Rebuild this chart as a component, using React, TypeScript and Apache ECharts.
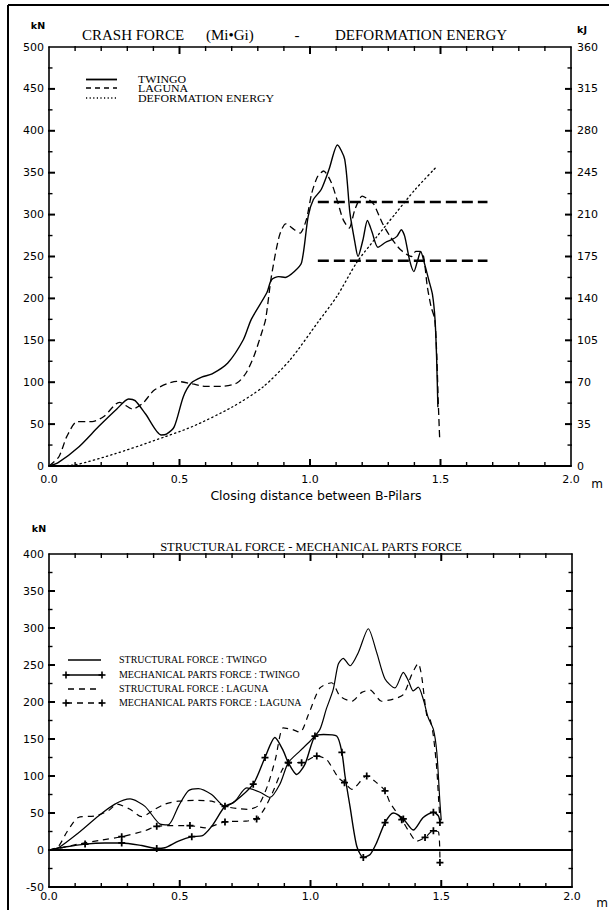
import React, { useEffect, useRef } from "react";
import * as echarts from "echarts";

// ---------- DATA ----------
// Top chart: crash force (kN) vs closing distance (m)
const twingoForce: [number, number][] = [
  [0, 0], [0.035, 4], [0.115, 23], [0.19, 47], [0.26, 68], [0.305, 80], [0.33, 78], [0.37, 62],
  [0.43, 37], [0.45, 38], [0.48, 47], [0.515, 83], [0.545, 99], [0.585, 106], [0.625, 110],
  [0.685, 123], [0.745, 151], [0.775, 175], [0.835, 207], [0.852, 222], [0.88, 226], [0.905, 225],
  [0.94, 232], [0.968, 243], [0.993, 298], [1.013, 318], [1.043, 330], [1.073, 354], [1.105, 383],
  [1.133, 366], [1.153, 302], [1.172, 267], [1.184, 250], [1.203, 270], [1.22, 293], [1.238, 279],
  [1.26, 261], [1.29, 267], [1.313, 270], [1.333, 274], [1.35, 282], [1.363, 274], [1.382, 245],
  [1.398, 232], [1.412, 245], [1.424, 256], [1.44, 240], [1.455, 222], [1.469, 205], [1.479, 175],
  [1.485, 130], [1.49, 70],
];
const lagunaForce: [number, number][] = [
  [0, 0], [0.038, 11], [0.068, 35], [0.108, 53], [0.165, 53], [0.21, 59], [0.27, 76], [0.32, 68],
  [0.36, 75], [0.405, 91], [0.49, 101], [0.55, 98], [0.6, 95], [0.66, 95], [0.72, 99], [0.755, 111],
  [0.785, 131], [0.815, 159], [0.83, 175], [0.852, 226], [0.882, 274], [0.907, 289], [0.94, 282],
  [0.962, 278], [0.986, 294], [1.007, 326], [1.03, 346], [1.052, 352], [1.082, 338], [1.107, 314],
  [1.127, 294], [1.15, 284], [1.172, 306], [1.2, 322], [1.225, 318], [1.245, 312], [1.277, 290],
  [1.307, 274], [1.347, 258], [1.39, 250], [1.405, 256], [1.42, 256], [1.435, 250], [1.449, 215],
  [1.464, 190], [1.478, 175], [1.486, 130], [1.491, 80], [1.497, 31],
];
// Deformation energy (kJ, right axis)
const deformationEnergy: [number, number][] = [
  [0, 0], [0.1, 1], [0.25, 10], [0.4, 21], [0.55, 33], [0.7, 49], [0.82, 66], [0.925, 89],
  [1.03, 120], [1.104, 142], [1.179, 170], [1.254, 191], [1.328, 211], [1.403, 231], [1.485, 250],
];
const refLineHigh: [number, number][] = [[1.03, 315], [1.68, 315]];
const refLineLow: [number, number][] = [[1.03, 245], [1.68, 245]];

// Bottom chart: structural / mechanical parts force (kN)
const twingoStructural: [number, number][] = [
  [0, 0], [0.036, 3], [0.112, 23], [0.189, 46], [0.252, 62], [0.31, 69], [0.367, 59], [0.425, 35],
  [0.456, 34], [0.495, 59], [0.533, 80], [0.571, 83], [0.622, 75], [0.673, 59], [0.711, 66],
  [0.756, 84], [0.807, 78], [0.845, 71], [0.883, 89], [0.915, 118], [0.96, 134], [0.998, 147],
  [1.036, 163], [1.06, 190], [1.087, 217], [1.106, 251], [1.125, 259], [1.151, 249], [1.183, 267],
  [1.221, 299], [1.253, 267], [1.285, 231], [1.323, 219], [1.355, 240], [1.374, 229], [1.393, 215],
  [1.412, 220], [1.431, 204], [1.45, 179], [1.47, 163], [1.483, 132], [1.495, 64], [1.5, 40],
];
const twingoMechanical: [number, number][] = [
  [0, 0], [0.06, 4], [0.138, 8], [0.214, 9.5], [0.278, 9.5], [0.355, 6], [0.412, 2], [0.443, 3],
  [0.495, 12], [0.546, 18], [0.584, 19], [0.622, 32], [0.673, 59], [0.705, 64], [0.781, 89],
  [0.826, 125], [0.864, 152], [0.896, 134], [0.915, 118], [0.947, 102], [0.979, 116], [1.017, 154],
  [1.05, 156], [1.1, 154], [1.12, 132], [1.132, 100], [1.151, 59], [1.177, 5], [1.202, -10],
  [1.228, -6], [1.253, 10], [1.285, 37], [1.317, 50], [1.355, 42], [1.393, 27], [1.431, 44],
  [1.47, 51], [1.489, 46], [1.495, 37],
];
const twingoMechMarks: number[] = [0.138, 0.278, 0.412, 0.546, 0.673, 0.781, 0.826, 0.915, 1.017, 1.12, 1.202, 1.285, 1.355, 1.47, 1.495];
const lagunaStructural: [number, number][] = [
  [0, 0], [0.036, 5], [0.068, 24], [0.112, 44], [0.176, 46], [0.227, 53], [0.26, 62], [0.31, 55],
  [0.354, 45], [0.405, 55], [0.443, 62], [0.495, 66], [0.558, 67], [0.622, 66], [0.673, 59],
  [0.72, 56], [0.761, 55], [0.8, 60], [0.836, 87], [0.866, 123], [0.896, 165], [0.93, 163],
  [0.96, 159], [0.992, 183], [1.036, 219], [1.081, 226], [1.113, 208], [1.158, 201], [1.196, 213],
  [1.228, 216], [1.272, 201], [1.317, 204], [1.355, 210], [1.387, 237], [1.412, 252], [1.425, 235],
  [1.445, 181], [1.457, 177], [1.47, 154], [1.483, 109], [1.49, 68], [1.495, 40],
];
const lagunaMechanical: [number, number][] = [
  [0, 0], [0.036, 2], [0.112, 8], [0.201, 13.5], [0.278, 18], [0.367, 26], [0.412, 32], [0.495, 33],
  [0.539, 33], [0.597, 30], [0.673, 38], [0.75, 39], [0.794, 42], [0.826, 57], [0.858, 80],
  [0.89, 107], [0.915, 118], [0.966, 118], [1.024, 127], [1.062, 122], [1.106, 98], [1.13, 91],
  [1.158, 82], [1.215, 100], [1.253, 91], [1.285, 80], [1.304, 64], [1.349, 41], [1.38, 23],
  [1.406, 12], [1.438, 17], [1.47, 26], [1.49, 24], [1.495, -17],
];
const lagunaMechMarks: number[] = [0.278, 0.412, 0.539, 0.673, 0.794, 0.915, 0.966, 1.024, 1.13, 1.215, 1.285, 1.349, 1.438, 1.47, 1.495];
const zeroLine: [number, number][] = [[0, 0], [2, 0]];

// Tick values for the frame
const xTickValues: number[] = [0.1, 0.2, 0.3, 0.4, 0.5, 0.6, 0.7, 0.8, 0.9, 1.0, 1.1, 1.2, 1.3, 1.4, 1.5, 1.6, 1.7, 1.8, 1.9];
const xMajorTicks: number[] = [0.5, 1.0, 1.5];
const energyTickLabels = ["0", "35", "70", "105", "140", "175", "210", "245", "280", "315", "360"];

// Texts
const topTitleParts = ["CRASH FORCE", "(Mi•Gi)", "-", "DEFORMATION ENERGY"];
const topLegendNames = ["TWINGO", "LAGUNA", "DEFORMATION ENERGY"];
const bottomTitle = "STRUCTURAL FORCE - MECHANICAL PARTS FORCE";
const bottomLegendNames = [
  "STRUCTURAL FORCE : TWINGO",
  "MECHANICAL PARTS FORCE : TWINGO",
  "STRUCTURAL FORCE : LAGUNA",
  "MECHANICAL PARTS FORCE : LAGUNA",
];
const xAxisName = "Closing distance between B-Pilars";

// ---------- LAYOUT / STYLE ----------
const PLUS = "path://M3,0H5V3H8V5H5V8H3V5H0V3H3Z";
const SANS = "DejaVu Sans";
const SERIF = "Liberation Serif";

const GRIDS = [
  { left: 49, top: 47, width: 522, height: 419, yMin: 0, yMax: 500 },
  { left: 49, top: 554, width: 523, height: 333, yMin: -50, yMax: 400 },
];

const markSymbol = (marks: number[]) => (value: any) =>
  marks.includes(Array.isArray(value) ? value[0] : NaN) ? PLUS : "none";

function xAxisDef(gridIndex: number, position: "top" | "bottom", showLabel: boolean, margin: number) {
  return {
    type: "value",
    gridIndex,
    position,
    min: 0,
    max: 2,
    interval: 0.5,
    axisLine: { show: true, onZero: false, lineStyle: { color: "#000", width: position === "bottom" ? 2 : 1.6 } },
    axisTick: { show: false },
    minorTick: { show: false },
    splitLine: { show: false },
    minorSplitLine: { show: false },
    axisLabel: {
      show: showLabel,
      margin,
      color: "#000",
      fontSize: 11,
      fontFamily: SANS,
      formatter: (v: number) => v.toFixed(1),
    },
  };
}

function yAxisDef(
  gridIndex: number,
  position: "left" | "right",
  min: number,
  max: number,
  interval: number,
  label: any
) {
  return {
    type: "value",
    gridIndex,
    position,
    min,
    max,
    interval,
    axisLine: { show: true, onZero: false, lineStyle: { color: "#000", width: 1.6 } },
    axisTick: { show: false },
    minorTick: { show: false },
    splitLine: { show: false },
    minorSplitLine: { show: false },
    axisLabel: label,
  };
}

function lineSeries(
  name: string,
  data: [number, number][],
  xi: number,
  yi: number,
  lineStyle: any,
  marks?: number[]
) {
  return {
    name,
    type: "line",
    xAxisIndex: xi,
    yAxisIndex: yi,
    data,
    smooth: 0.25,
    showSymbol: !!marks,
    symbol: marks ? markSymbol(marks) : "none",
    symbolSize: 7,
    itemStyle: { color: "#000" },
    lineStyle: { color: "#000", ...lineStyle },
    silent: true,
    z: 3,
  };
}

// Tick marks drawn as a scatter series of bar-shaped symbols through the axes' scales
function tickSeries(
  name: string,
  data: [number, number][],
  xi: number,
  yi: number,
  w: number,
  h: number,
  offset: [number, number]
) {
  return {
    name,
    type: "scatter",
    xAxisIndex: xi,
    yAxisIndex: yi,
    data,
    clip: false,
    symbol: "rect",
    symbolSize: [w, h],
    symbolOffset: offset,
    itemStyle: { color: "#000", opacity: 1 },
    silent: true,
    z: 6,
  };
}

function text(x: number, y: number, t: string, size: number, family: string, extra: any = {}, elExtra: any = {}) {
  const align = extra.align || "center";
  return {
    type: "text",
    x,
    y,
    silent: true,
    ...elExtra,
    style: {
      text: t,
      fontSize: size,
      fontFamily: family,
      fill: "#000",
      align,
      textAlign: align,
      verticalAlign: "middle",
      textVerticalAlign: "middle",
      ...extra,
    },
  };
}

function seg(x1: number, y1: number, x2: number, y2: number, width: number, dash?: number[]) {
  const style: any = { stroke: "#000", lineWidth: width };
  if (dash) style.lineDash = dash;
  return {
    type: "line",
    silent: true,
    z: 10,
    shape: { x1, y1, x2, y2 },
    style,
  };
}

function plus(cx: number, cy: number) {
  return [seg(cx - 3.5, cy, cx + 3.5, cy, 1.6), seg(cx, cy - 3.5, cx, cy + 3.5, 1.6)];
}

// inside tick of length L: symbol spans from the axis line (1px overlap) into the plot
const tickSpan = (L: number) => ({ size: L + 1, shift: (L - 1) / 2 });

function buildTicks() {
  const series: any[] = [];
  const xMajL = tickSpan(7), xMinL = tickSpan(4);
  const yMajL = tickSpan(6), yMinL = tickSpan(3.5);
  GRIDS.forEach((g, gi) => {
    const xi = gi * 2;
    const yi = gi * 2;
    const isMajor = (v: number) => xMajorTicks.some((m) => Math.abs(m - v) < 1e-6);
    const xMaj = xTickValues.filter(isMajor);
    const xMin = xTickValues.filter((v) => !isMajor(v));
    // bottom & top frame ticks
    series.push(tickSeries(`xt-b-maj-${gi}`, xMaj.map((v) => [v, g.yMin]), xi, yi, 2, xMajL.size, [0, -xMajL.shift]));
    series.push(tickSeries(`xt-b-min-${gi}`, xMin.map((v) => [v, g.yMin]), xi, yi, 1.4, xMinL.size, [0, -xMinL.shift]));
    series.push(tickSeries(`xt-t-maj-${gi}`, xMaj.map((v) => [v, g.yMax]), xi, yi, 2, xMajL.size, [0, xMajL.shift]));
    series.push(tickSeries(`xt-t-min-${gi}`, xMin.map((v) => [v, g.yMax]), xi, yi, 1.4, xMinL.size, [0, xMinL.shift]));
    // left & right frame ticks
    const yMaj: [number, number][] = [];
    const yMinr: [number, number][] = [];
    for (let v = g.yMin + 25; v < g.yMax; v += 25) {
      if (v % 50 === 0) yMaj.push([0, v]);
      else yMinr.push([0, v]);
    }
    series.push(tickSeries(`yt-l-maj-${gi}`, yMaj, xi, yi, yMajL.size, 2, [yMajL.shift, 0]));
    series.push(tickSeries(`yt-l-min-${gi}`, yMinr, xi, yi, yMinL.size, 1.4, [yMinL.shift, 0]));
    series.push(tickSeries(`yt-r-maj-${gi}`, yMaj.map(([, v]) => [2, v] as [number, number]), xi, yi, yMajL.size, 2, [-yMajL.shift, 0]));
    series.push(tickSeries(`yt-r-min-${gi}`, yMinr.map(([, v]) => [2, v] as [number, number]), xi, yi, yMinL.size, 1.4, [-yMinL.shift, 0]));
  });
  return series;
}

export default function App() {
  const ref = useRef<HTMLDivElement>(null);

  useEffect(() => {
    if (!ref.current) return;
    const chart = echarts.init(ref.current, null, { renderer: "svg" });

    const topLegendY = [79.5, 88, 98];
    const botLegendY = [660, 675, 689, 703];

    const graphics: any[] = [
      // page frame
      seg(8, 5, 609, 5, 2),
      seg(8, 5, 8, 910, 2),
      // top chart titles / units
      text(82, 35, topTitleParts[0], 15, SERIF, { align: "left" }),
      text(206, 35, topTitleParts[1], 15, SERIF, { align: "left" }),
      text(297, 35, topTitleParts[2], 15, SERIF),
      text(335, 35, topTitleParts[3], 15, SERIF, { align: "left" }),
      text(38, 25, "kN", 9.5, SANS, { fontWeight: "bold" }),
      text(582, 29, "kJ", 9.5, SANS, { fontWeight: "bold" }),
      text(597, 484, "m", 12, SANS),
      text(316, 495, xAxisName, 12.5, SANS),
      // top legend
      seg(86, topLegendY[0], 117, topLegendY[0], 1.8),
      seg(86, topLegendY[1], 117, topLegendY[1], 1.5, [5, 4]),
      seg(86, topLegendY[2], 117, topLegendY[2], 1.3, [1.2, 2.4]),
      ...topLegendNames.map((n, i) =>
        text(138, topLegendY[i], n, 9.5, SERIF, { align: "left" }, { scaleX: 1.25 })
      ),
      // bottom chart titles / units
      text(39, 528, "kN", 9.5, SANS, { fontWeight: "bold" }),
      text(311, 547, bottomTitle, 12.5, SERIF),
      text(602, 903, "m", 12, SANS),
      // bottom legend
      seg(68, botLegendY[0], 101, botLegendY[0], 1.3),
      seg(65, botLegendY[1], 103, botLegendY[1], 1.6),
      ...plus(66, botLegendY[1]),
      ...plus(102, botLegendY[1]),
      seg(68, botLegendY[2], 101, botLegendY[2], 1.3, [6, 5]),
      seg(66, botLegendY[3], 102, botLegendY[3], 1.3, [6, 5]),
      ...plus(66, botLegendY[3]),
      ...plus(102, botLegendY[3]),
      ...bottomLegendNames.map((n, i) =>
        text(119, botLegendY[i], n, 9.5, SERIF, { align: "left" }, { scaleX: 1.05 })
      ),
    ];

    const tickLabel = (margin: number, extra: any = {}) => ({
      show: true,
      margin,
      color: "#000",
      fontSize: 11,
      fontFamily: SANS,
      ...extra,
    });

    chart.setOption({
      animation: false,
      backgroundColor: "#fff",
      grid: GRIDS.map((g) => ({ left: g.left, top: g.top, width: g.width, height: g.height })),
      xAxis: [
        xAxisDef(0, "bottom", true, 8),
        xAxisDef(0, "top", false, 8),
        xAxisDef(1, "bottom", true, 4),
        xAxisDef(1, "top", false, 4),
      ],
      yAxis: [
        yAxisDef(0, "left", 0, 500, 50, tickLabel(5)),
        yAxisDef(0, "right", 0, 350, 35, tickLabel(6, {
          formatter: (v: number) => energyTickLabels[Math.round(v / 35)] ?? "",
        })),
        yAxisDef(1, "left", -50, 400, 50, tickLabel(5)),
        yAxisDef(1, "right", -50, 400, 50, { show: false }),
      ],
      series: [
        lineSeries("TWINGO", twingoForce, 0, 0, { width: 1.4 }),
        lineSeries("LAGUNA", lagunaForce, 0, 0, { width: 1.3, type: [7, 4] }),
        lineSeries("DEFORMATION ENERGY", deformationEnergy, 0, 1, { width: 1.3, type: [1.3, 3.2], cap: "round" }),
        { ...lineSeries("ref-high", refLineHigh, 0, 0, { width: 2.6, type: [11, 5] }), smooth: false },
        { ...lineSeries("ref-low", refLineLow, 0, 0, { width: 2.6, type: [11, 5] }), smooth: false },
        { ...lineSeries("zero", zeroLine, 2, 2, { width: 2 }), smooth: false },
        lineSeries(bottomLegendNames[0], twingoStructural, 2, 2, { width: 1.2 }),
        lineSeries(bottomLegendNames[1], twingoMechanical, 2, 2, { width: 1.4 }, twingoMechMarks),
        lineSeries(bottomLegendNames[2], lagunaStructural, 2, 2, { width: 1.2, type: [6, 5] }),
        lineSeries(bottomLegendNames[3], lagunaMechanical, 2, 2, { width: 1.2, type: [6, 5] }, lagunaMechMarks),
        ...buildTicks(),
      ],
      graphic: { elements: graphics },
    });

    return () => chart.dispose();
  }, []);

  return (
    <div
      ref={ref}
      style={{ position: "absolute", left: 0, top: 0, width: 609, height: 910, background: "#fff" }}
    />
  );
}
